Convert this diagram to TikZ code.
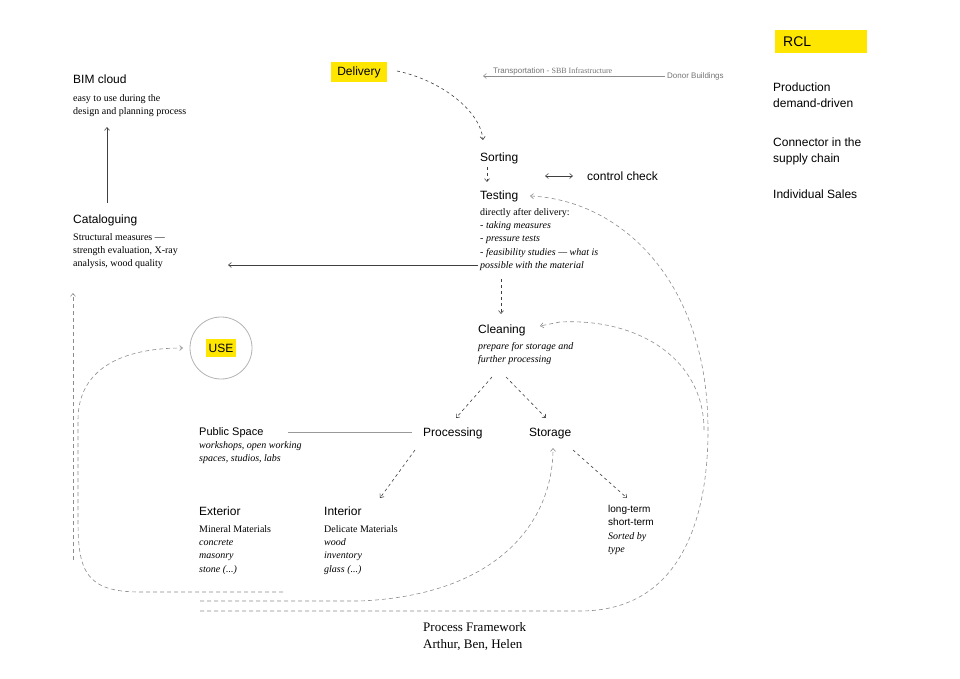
\documentclass[tikz,border=0pt]{standalone}
\usepackage{fontspec}
\setmainfont{Liberation Serif}
\setsansfont{Liberation Sans}
\usetikzlibrary{arrows.meta}
\definecolor{yel}{HTML}{FFE600}
\begin{document}
\begin{tikzpicture}[x=1pt,y=-1pt,
  hd/.style={anchor=base west,inner sep=0,font=\sffamily\fontsize{12}{14}\selectfont},
  ds/.style={anchor=north west,inner sep=0,align=left,font=\fontsize{10}{13.3}\selectfont},
  ar/.style={-{Straight Barb[length=3pt,width=5pt]},draw=black!75,line width=0.6pt},
  da/.style={ar,dashed,dash pattern=on 3pt off 3pt},
  lp/.style={dashed,dash pattern=on 4pt off 3pt,draw=black!45,line width=0.6pt},
  yb/.style={fill=yel,inner sep=3pt,font=\sffamily\fontsize{12}{14}\selectfont}]
\useasboundingbox (0,0) rectangle (960,679);
% headers
\node[hd] (bim) at (73,84) {BIM cloud};
\node[ds] (bimd) at (73,94) {easy to use during the\\design and planning process};
\node[hd] (cat) at (73,223) {Cataloguing};
\node[ds] (catd) at (73,233) {Structural measures —\\strength evaluation, X-ray\\analysis, wood quality};
\node[yb,minimum width=56pt,minimum height=20pt] (del) at (359,72) {Delivery};
\node[anchor=base west,inner sep=0,text=black!55,font=\sffamily\fontsize{8}{9}\selectfont] (tr) at (493,74) {Transportation - \rmfamily SBB Infrastructure};
\node[anchor=base west,inner sep=0,text=black!55,font=\sffamily\fontsize{8}{9}\selectfont] (don) at (667,79) {Donor Buildings};
\node[hd] (sor) at (480,161) {Sorting};
\node[hd] (cc) at (587,180) {control check};
\node[hd] (tes) at (480,200) {Testing};
\node[ds] (tesd) at (480,208) {directly after delivery:\\\textit{- taking measures}\\\textit{- pressure tests}\\\textit{- feasibility studies — what is}\\\textit{possible with the material}};
\node[hd] (cle) at (478,333) {Cleaning};
\node[ds] (cled) at (478,342) {\textit{prepare for storage and}\\\textit{further processing}};
\node[circle,draw=black!30,line width=0.8pt,minimum size=62pt] (usec) at (221,348) {};
\node[yb,minimum width=30pt,minimum height=18pt] (use) at (221,348) {USE};
\node[hd,font=\sffamily\fontsize{11}{13}\selectfont] (pub) at (199,435) {Public Space};
\node[ds] (pubd) at (199,441) {\textit{workshops, open working}\\\textit{spaces, studios, labs}};
\node[hd] (pro) at (423,436) {Processing};
\node[hd] (sto) at (529,436) {Storage};
\node[hd] (ext) at (199,515) {Exterior};
\node[ds] (extd) at (199,525) {Mineral Materials\\\textit{concrete}\\\textit{masonry}\\\textit{stone (...)}};
\node[hd] (int) at (324,515) {Interior};
\node[ds] (intd) at (324,525) {Delicate Materials\\\textit{wood}\\\textit{inventory}\\\textit{glass (...)}};
\node[ds,font=\sffamily\fontsize{10}{13.3}\selectfont] (lt) at (608,505) {long-term\\short-term\\\rmfamily\itshape Sorted by\\\rmfamily\itshape type};
\node[anchor=north west,inner sep=0,align=left,font=\fontsize{13}{17.5}\selectfont] (pf) at (423,622) {Process Framework\\Arthur, Ben, Helen};
\node[fill=yel,minimum width=92pt,minimum height=23pt,inner sep=0] (rcl) at (821,42) {};
\node[anchor=west,inner sep=0,font=\sffamily\fontsize{14}{16}\selectfont] (rclt) at (783,42) {RCL};
\node[ds,font=\sffamily\fontsize{12}{15.5}\selectfont] (p1) at (773,83) {Production\\demand-driven};
\node[ds,font=\sffamily\fontsize{12}{15.5}\selectfont] (p2) at (773,138) {Connector in the\\supply chain};
\node[ds,font=\sffamily\fontsize{12}{15.5}\selectfont] (p3) at (773,190) {Individual Sales};
% coordinates
\coordinate (trE) at (665,76); \coordinate (trW) at (483,76);
\coordinate (catT) at (107,127); \coordinate (catB) at (107,203);
\coordinate (tesL) at (478,265); \coordinate (catR) at (228,265);
\coordinate (pubE) at (288,432); \coordinate (proW) at (412,432);
% solid connectors
\draw[ar,draw=black!45] (trE) -- (trW);
\draw[ar] (catB) -- (catT);
\draw[ar] (tesL) -- (catR);
\draw[{Straight Barb[length=3pt,width=5pt]}-{Straight Barb[length=3pt,width=5pt]},draw=black!75,line width=0.6pt] (545,176) -- (573,176);
\draw[draw=black!40,line width=1pt] (pubE) -- (proW);
% dashed connectors
\draw[da] (397,71) .. controls (440,80) and (480,110) .. (483,140);
\draw[da] (487,167) -- (487,182);
\draw[da] (501,279) -- (501,314);
\draw[da] (492,377) -- (456,418);
\draw[da] (506,377) -- (546,418);
\draw[da] (415,450) -- (380,498);
\draw[da] (573,450) -- (627,498);
% loops
\draw[lp,-{Straight Barb[length=3pt,width=5pt]}] (73,560) -- (73,293);
\draw[lp,-{Straight Barb[length=3pt,width=5pt]}] (283,592) -- (140,592) .. controls (85,592) and (78,570) .. (78,520) -- (78,420) .. controls (78,370) and (120,348) .. (183,348);
\draw[lp,-{Straight Barb[length=3pt,width=5pt]}] (200,601) -- (360,601) .. controls (500,595) and (553,520) .. (553,448);
\draw[lp,-{Straight Barb[length=3pt,width=5pt]}] (200,611) -- (580,611) .. controls (680,611) and (708,520) .. (708,430) .. controls (708,280) and (620,200) .. (530,196);
\draw[lp,-{Straight Barb[length=3pt,width=5pt]}] (704,430) .. controls (704,360) and (640,318) .. (560,322) -- (540,326);
\end{tikzpicture}
\end{document}
